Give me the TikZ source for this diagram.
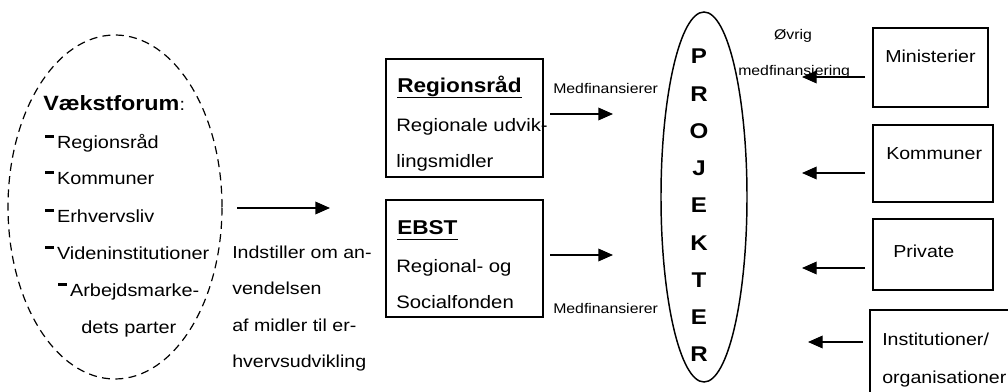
\documentclass[tikz,border=0pt]{standalone}
\usepackage{fontspec}
\setmainfont{Liberation Sans}[FakeStretch=1.13]
\usetikzlibrary{arrows.meta,shapes.geometric}
\newcommand\fmain{\fontsize{13}{15}\selectfont}
\newcommand\flist{\fontsize{13.2}{16}\selectfont}
\newcommand\fboxtxt{\fontsize{13.5}{16}\selectfont}
\newcommand\fhead{\fontsize{15}{17}\selectfont\bfseries}
\newcommand\fsmall{\fontsize{10.5}{12}\selectfont}
\newcommand\fproj{\fontsize{16}{18}\selectfont\bfseries}
\newcommand\ldash{\rule[0.6em]{0.52em}{0.17em}\kern0.15em}
\begin{document}
\begin{tikzpicture}[x=0.75pt,y=-0.75pt,
  txt/.style={inner sep=0pt,anchor=base west,font=\fmain},
  lst/.style={inner sep=0pt,anchor=base west,font=\flist},
  btx/.style={inner sep=0pt,anchor=base west,font=\fboxtxt},
  small/.style={inner sep=0pt,anchor=base west,font=\fsmall},
  head/.style={inner sep=0pt,anchor=base west,font=\fhead},
  box/.style={draw,line width=1.2pt,rectangle,inner sep=0pt},
  arr/.style={line width=1pt,-{Triangle[length=11pt,width=9.5pt]}},
  uline/.style={line width=1.1pt}]
\useasboundingbox (0,0) rectangle (1008,392);
% Vaekstforum ellipse
\node[draw,dashed,dash pattern=on 6pt off 4pt,line width=0.9pt,ellipse,inner sep=0pt,
  minimum width={214*0.75pt},minimum height={344*0.75pt}] (vf) at (115,207) {};
\node[txt] (vft) at (43,111) {{\fontsize{15.5}{17}\selectfont\textbf{Vækstforum}}:};
\node[lst] (l1) at (45,149) {\ldash Regionsråd};
\node[lst] (l2) at (45,185) {\ldash Kommuner};
\node[lst] (l3) at (45,223) {\ldash Erhvervsliv};
\node[lst] (l4) at (45,260) {\ldash Videninstitutioner};
\node[lst] (l5) at (58,297) {\ldash Arbejdsmarke-};
\node[lst] (l6) at (81,334) {dets parter};
% arrow from Vaekstforum
\coordinate (a0s) at (237,208);
\coordinate (a0e) at (330,208);
\draw[arr] (a0s) -- (a0e);
\node[txt] (i1) at (232,259) {Indstiller om an-};
\node[txt] (i2) at (232,295) {vendelsen};
\node[txt] (i3) at (232,332) {af midler til er-};
\node[txt] (i4) at (232,368) {hvervsudvikling};
% Regionsraad box
\node[box,minimum width={157*0.75pt},minimum height={118*0.75pt}] (rr) at (464.5,118) {};
\node[head] (rrh) at (397,93) {Regionsråd};
\draw[uline] ([yshift=-3.2pt]rrh.base west) -- ([yshift=-3.2pt]rrh.base east);
\node[btx] (rr1) at (396,132) {Regionale udvik-};
\node[btx] (rr2) at (396,168) {lingsmidler};
% EBST box
\node[box,minimum width={157*0.75pt},minimum height={117*0.75pt}] (eb) at (464.5,258.5) {};
\node[head] (ebh) at (397,235) {EBST};
\draw[uline] ([yshift=-3.2pt]ebh.base west) -- ([yshift=-3.2pt]ebh.base east);
\node[btx] (eb1) at (396,273) {Regional- og};
\node[btx] (eb2) at (396,309) {Socialfonden};
% Medfinansierer arrows
\node[small] (m1) at (553,94) {Medfinansierer};
\coordinate (a1s) at (550,114);
\coordinate (a1e) at (613,114);
\draw[arr] (a1s) -- (a1e);
\node[small] (m2) at (553,314) {Medfinansierer};
\coordinate (a2s) at (550,255);
\coordinate (a2e) at (613,255);
\draw[arr] (a2s) -- (a2e);
% PROJEKTER
\node[draw,line width=1.1pt,ellipse,inner sep=0pt,
  minimum width={86*0.75pt},minimum height={370*0.75pt}] (pj) at (704,197) {};
\foreach \l [count=\i from 0] in {P,R,O,J,E,K,T,E,R}{
  \node[inner sep=0pt,anchor=base,font=\fproj] (p\i) at (699,{64+37.25*\i}) {\l};
}
% Oevrig medfinansiering
\node[small,anchor=base] (ov) at (793,40) {Øvrig};
\node[small] (mf) at (738,76) {medfinansiering};
% right boxes
\node[box,minimum width={115*0.75pt},minimum height={79*0.75pt}] (mi) at (930.5,67.5) {};
\node[txt] (mit) at (885,63) {Ministerier};
\node[box,minimum width={120*0.75pt},minimum height={77*0.75pt}] (ko) at (933,163.5) {};
\node[txt] (kot) at (886,160) {Kommuner};
\node[box,minimum width={120*0.75pt},minimum height={71*0.75pt}] (pr) at (933,254.5) {};
\node[txt] (prt) at (893,258) {Private};
\node[box,minimum width={145*0.75pt},minimum height={90*0.75pt}] (in) at (942.5,355) {};
\node[txt] (in1) at (882,345) {Institutioner/};
\node[txt] (in2) at (882,383) {organisationer};
% arrows into PROJEKTER
\coordinate (b1s) at (865,77);
\coordinate (b1e) at (802,77);
\draw[arr] (b1s) -- (b1e);
\coordinate (b2s) at (865,173);
\coordinate (b2e) at (802,173);
\draw[arr] (b2s) -- (b2e);
\coordinate (b3s) at (865,268);
\coordinate (b3e) at (802,268);
\draw[arr] (b3s) -- (b3e);
\coordinate (b4s) at (863,342);
\coordinate (b4e) at (808,342);
\draw[arr] (b4s) -- (b4e);
\end{tikzpicture}
\end{document}
